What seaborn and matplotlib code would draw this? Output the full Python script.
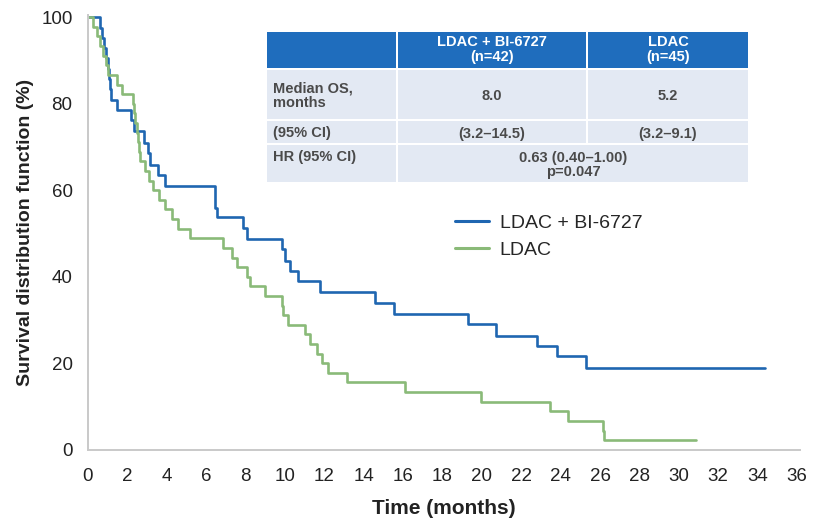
import numpy as np
import pandas as pd
import matplotlib
matplotlib.use("Agg")
import matplotlib.pyplot as plt
from matplotlib.patches import Rectangle
from matplotlib.lines import Line2D
import seaborn as sns

# Kaplan-Meier steps (months, % surviving)
combo_time = [0, 0.61, 0.7, 0.8, 0.9, 1.0, 1.06, 1.12, 1.17, 1.5, 2.19, 2.34, 2.87,
              3.05, 3.15, 3.57, 3.91, 6.46, 6.55, 7.88, 8.07, 9.85, 10.02, 10.27,
              10.68, 11.8, 14.59, 15.55, 19.28, 20.74, 22.81, 23.83, 25.27, 34.35]
combo_surv = [100, 97.6, 95.2, 92.9, 90.5, 88.1, 85.7, 83.3, 80.9, 78.6, 76.2, 73.8, 71.0,
              68.6, 65.9, 63.6, 61.1, 56.0, 53.9, 51.3, 48.7, 46.4, 43.7, 41.4,
              39.1, 36.4, 33.9, 31.4, 29.1, 26.4, 24.1, 21.7, 19.0, 19.0]

ldac_time = [0, 0.25, 0.45, 0.6, 0.75, 0.9, 1.0, 1.5, 1.75, 2.3, 2.36, 2.42, 2.48,
             2.53, 2.58, 2.64, 2.9, 3.12, 3.3, 3.6, 3.91, 4.25, 4.59, 5.19, 6.88,
             7.31, 7.56, 8.07, 8.24, 9.0, 9.85, 9.93, 10.18, 11.03, 11.29, 11.63,
             11.9, 12.2, 13.15, 16.12, 19.98, 23.44, 24.35, 26.15, 26.2, 30.86]
ldac_surv = [100, 97.8, 95.6, 93.3, 91.1, 88.9, 86.7, 84.4, 82.2, 80.0, 77.8, 75.6, 73.3,
             71.1, 68.9, 66.7, 64.4, 62.2, 60.0, 57.8, 55.6, 53.3, 51.1, 48.9, 46.7,
             44.4, 42.2, 40.0, 37.8, 35.6, 33.3, 31.1, 28.9, 26.7, 24.4, 22.2,
             20.0, 17.8, 15.6, 13.3, 11.1, 8.9, 6.7, 4.4, 2.2, 2.2]

arms = ["LDAC + BI-6727", "LDAC"]
colors = ["#1f66b1", "#8aba78"]
x_ticks = list(range(0, 37, 2))
y_ticks = [0, 20, 40, 60, 80, 100]

table_header = ["", "LDAC + BI-6727\n(n=42)", "LDAC\n(n=45)"]
table_rows = [["Median OS,\nmonths", "8.0", "5.2"],
              ["(95% CI)", "(3.2\u201314.5)", "(3.2\u20139.1)"]]
hr_label = "HR (95% CI)"
hr_text = "0.63 (0.40\u20131.00)\np=0.047"

df = pd.concat([
    pd.DataFrame({"time": combo_time, "surv": combo_surv, "arm": arms[0]}),
    pd.DataFrame({"time": ldac_time, "surv": ldac_surv, "arm": arms[1]}),
])

sns.set_theme(style="white")
plt.rcParams["font.family"] = ["Liberation Sans", "DejaVu Sans"]

fig = plt.figure(figsize=(8.13, 5.2), dpi=100)
ax = fig.add_axes([0.108, 0.135, 0.876, 0.836])

sns.lineplot(data=df, x="time", y="surv", hue="arm", palette=dict(zip(arms, colors)),
             drawstyle="steps-post", estimator=None, errorbar=None, sort=False,
             legend=False, ax=ax, linewidth=1.9)

ax.set_xlim(0, 36.15)
ax.set_ylim(0, 100.5)
ax.set_xticks(x_ticks)
ax.set_yticks(y_ticks)
ax.tick_params(axis="both", length=0, labelsize=13.5, colors="#222222")
ax.tick_params(axis="x", pad=13)
ax.tick_params(axis="y", pad=11)
for s in ["top", "right"]:
    ax.spines[s].set_visible(False)
for s in ["left", "bottom"]:
    ax.spines[s].set_color("#c9c9c9")
    ax.spines[s].set_linewidth(1.4)
ax.set_xlabel("Time (months)", fontsize=15, fontweight="bold", color="#222222", labelpad=10)
ax.set_ylabel("Survival distribution function (%)", fontsize=14, fontweight="bold",
              color="#222222", labelpad=5)

handles = [Line2D([], [], color=c, lw=2.2) for c in colors]
fig.legend(handles, arms, loc="upper left", bbox_to_anchor=(0.538, 0.621),
           frameon=False, handlelength=1.75, handletextpad=0.55,
           labelspacing=0.45, prop={"size": 14})

# summary table, laid out in figure pixels
tax = fig.add_axes([267 / 813, (520 - 182) / 520, 481 / 813, 150 / 520])
tax.set_xlim(267, 748)
tax.set_ylim(182, 32)
tax.axis("off")
head_c = "#1f6dbd"
body_c = "#e3e9f3"
txt_c = "#4a4a4a"
cols = [(267, 396), (398, 586), (588, 748)]
tfont = {"size": 10.5, "weight": "bold"}
for (x0, x1), txt in zip(cols, table_header):
    tax.add_patch(Rectangle((x0, 32), x1 - x0, 36, color=head_c, lw=0))
    tax.text((x0 + x1) / 2, 49.5, txt, color="white", ha="center", va="center",
             linespacing=1.1, **tfont)
row_y = [(70, 119), (121, 143)]
for (y0, y1), row in zip(row_y, table_rows):
    for i, ((x0, x1), txt) in enumerate(zip(cols, row)):
        tax.add_patch(Rectangle((x0, y0), x1 - x0, y1 - y0, color=body_c, lw=0))
        if i == 0:
            tax.text(x0 + 6, (y0 + y1) / 2 + 1, txt, color=txt_c, ha="left",
                     va="center", linespacing=1.05, **tfont)
        else:
            tax.text((x0 + x1) / 2, (y0 + y1) / 2 + 2, txt, color=txt_c,
                     ha="center", va="center", **tfont)
tax.add_patch(Rectangle((267, 145), 129, 37, color=body_c, lw=0))
tax.add_patch(Rectangle((398, 145), 350, 37, color=body_c, lw=0))
tax.text(273, 157, hr_label, color=txt_c, ha="left", va="center", **tfont)
tax.text(573, 165, hr_text, color=txt_c, ha="center", va="center",
         linespacing=1.05, **tfont)

fig.savefig("out.png", dpi=100)
